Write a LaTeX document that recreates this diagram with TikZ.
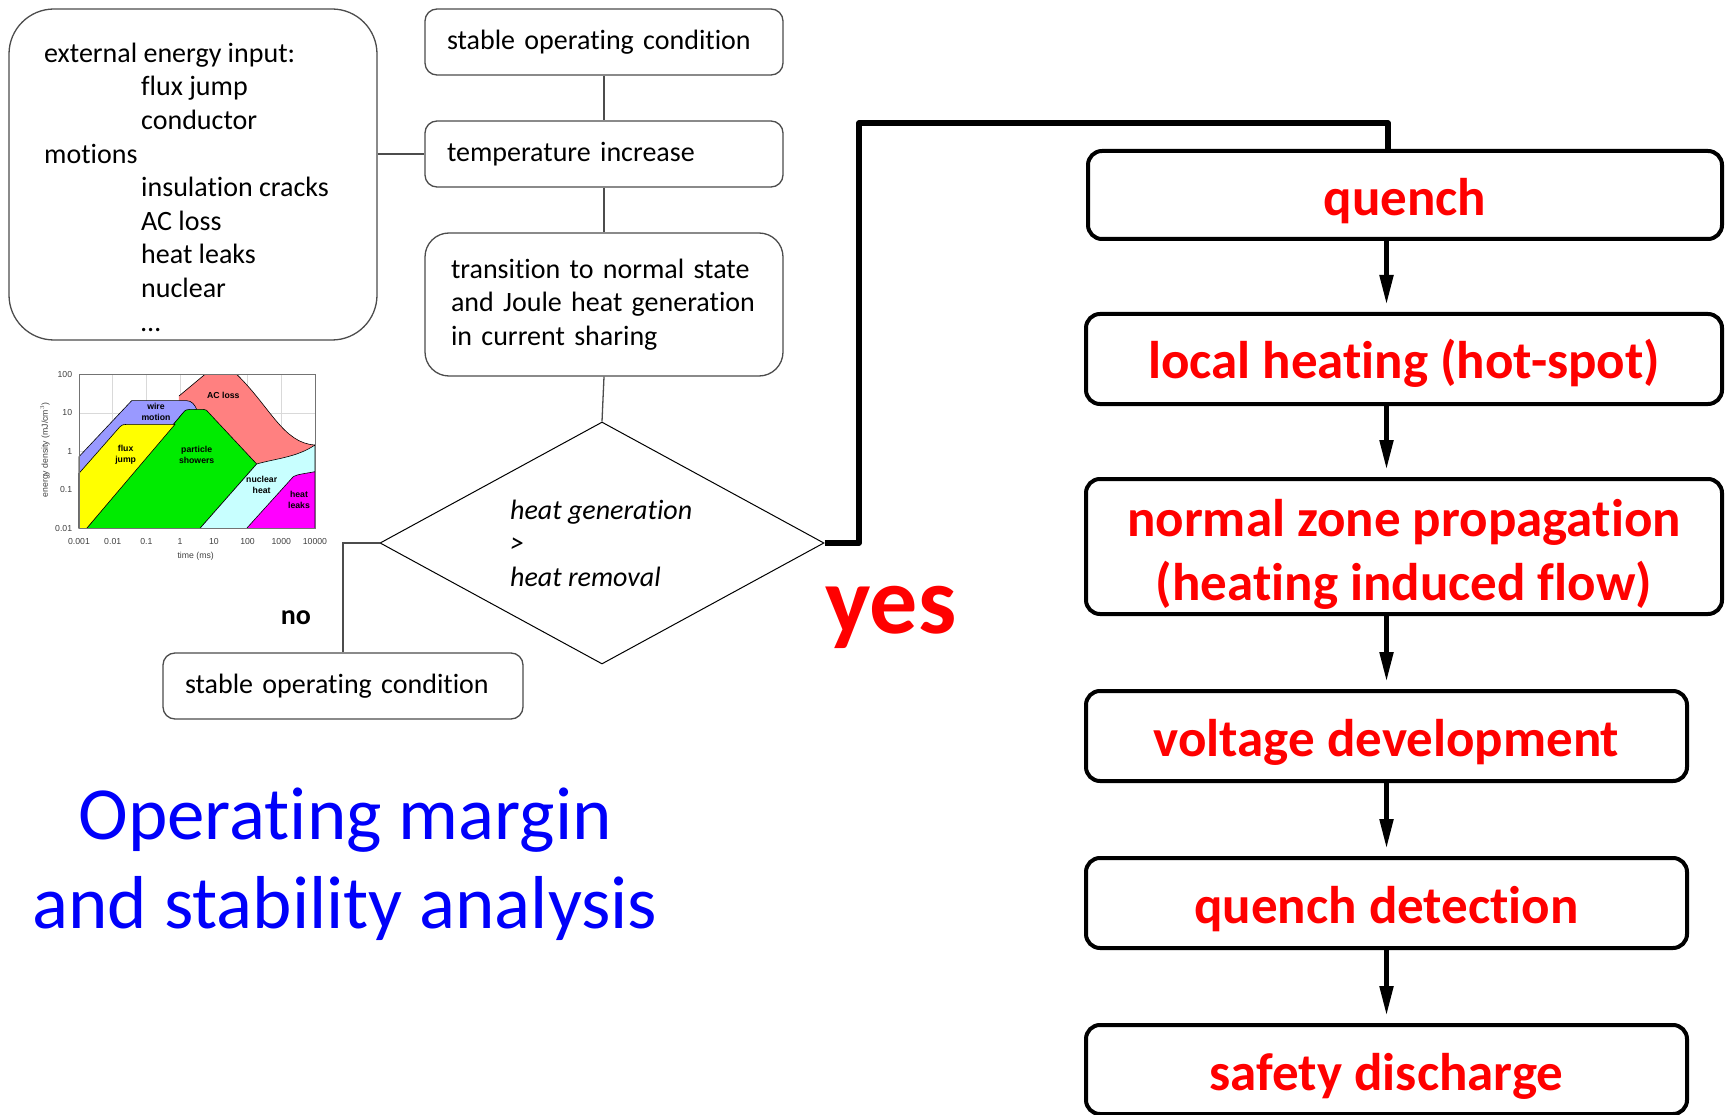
\documentclass[tikz,border=0pt]{standalone}
\usepackage{fontspec}
\setmainfont{Carlito}[Ligatures={NoCommon}]
\newfontfamily\chartfont{Liberation Sans}
\usetikzlibrary{shapes.geometric,arrows.meta,calc}
\definecolor{wirec}{RGB}{153,153,255}
\definecolor{acc}{RGB}{255,128,128}
\definecolor{partc}{RGB}{0,235,0}
\definecolor{fluxc}{RGB}{255,255,0}
\definecolor{nucc}{RGB}{200,255,255}
\definecolor{leakc}{RGB}{255,0,255}
\definecolor{titleblue}{RGB}{0,0,250}
\begin{document}
\begin{tikzpicture}[x=1pt,y=-1pt,
  gbox/.style={draw=black!70, line width=1.3pt, rounded corners=12pt, inner sep=0pt,
    font=\fontsize{28}{33.6}\selectfont, align=left},
  rbox/.style={draw=black, line width=4pt, rounded corners=14pt, inner sep=0pt},
  rtext/.style={text=red, font=\fontsize{53}{64}\selectfont\bfseries, align=center, inner sep=0pt},
  thinline/.style={draw=black!70, line width=1.3pt},
  heavyline/.style={line width=5.5pt, line join=round},
  arr/.style={line width=5pt, -{Triangle[length=30pt,width=13pt]}, shorten >=7pt},
  bodytext/.style={font=\fontsize{28}{33.6}\selectfont, inner sep=0pt, align=left},
  region/.style={draw=black, line width=0.6pt, line join=round},
  ticklab/.style={font=\chartfont\fontsize{8.7}{10}\selectfont, text=black!75, inner sep=0pt},
  reglab/.style={font=\chartfont\bfseries\fontsize{8.7}{10.7}\selectfont, align=center, inner sep=0pt}
]
\useasboundingbox (0,0) rectangle (1725,1115);

% ---------- left energy input box ----------
\node[draw=black!70, line width=1.3pt, rounded corners=45pt, minimum width=368pt, minimum height=331pt, inner sep=0pt] (energybox) at (193,174.5) {};
\node[bodytext, anchor=west] (energytext) at (44,187) {external energy input:\\
\hspace*{97pt}flux jump\\
\hspace*{97pt}conductor\\
motions\\
\hspace*{97pt}insulation cracks\\
\hspace*{97pt}AC loss\\
\hspace*{97pt}heat leaks\\
\hspace*{97pt}nuclear\\
\hspace*{97pt}\ldots};

% ---------- flow boxes ----------
\node[gbox, minimum width=358pt, minimum height=66pt, text width=314pt] (stable1) at (604,42) {stable operating condition};
\node[gbox, minimum width=358pt, minimum height=66pt, text width=314pt] (tempbox) at (604,154) {temperature increase};
\node[gbox, rounded corners=24pt, minimum width=358pt, minimum height=143pt, text width=306pt] (trans) at (604,304.5) {transition to normal state\\and Joule heat generation\\in current sharing};
\node[draw=black, line width=1pt, diamond, minimum width=444pt, minimum height=242pt, inner sep=0pt] (dia) at (602,543) {};
\node[bodytext, anchor=west, font=\fontsize{28}{33.5}\selectfont\itshape] (dtext) at (510,543) {heat generation\\>\\heat removal};
\node[font=\fontsize{28}{33}\selectfont\bfseries, inner sep=0pt] (nolabel) at (296,618) {no};
\node[gbox, minimum width=360pt, minimum height=66pt, text width=316pt] (stable2) at (343,686) {stable operating condition};

\draw[thinline] (energybox.east |- tempbox.west) -- (tempbox.west);
\draw[thinline] (stable1.south) -- (tempbox.north);
\draw[thinline] (tempbox.south) -- (trans.north);
\draw[thinline] (trans.south) -- (dia.north);
\draw[thinline] (dia.west) -| (stable2.north);

% ---------- yes ----------
\node[font=\fontsize{96}{100}\selectfont\bfseries, text=red, anchor=base, inner sep=0pt] (yes) at (891,633) {yes};

% ---------- right red column ----------
\node[rbox, minimum width=634pt, minimum height=88pt] (quench) at (1405,195) {};
\node[rbox, minimum width=636pt, minimum height=90pt] (local) at (1404,359) {};
\node[rbox, minimum width=636pt, minimum height=135pt] (normal) at (1404,546.5) {};
\node[rbox, minimum width=601pt, minimum height=90pt] (voltage) at (1386.5,736) {};
\node[rbox, minimum width=601pt, minimum height=90pt] (detect) at (1386.5,903) {};
\node[rbox, minimum width=601pt, minimum height=89pt] (safety) at (1386.5,1069.5) {};

\node[rtext] (quenchT) at ([yshift=-6pt]quench.center) {quench};
\node[rtext] (localT) at ([yshift=-4pt]local.center) {local heating (hot-spot)};
\node[rtext] (normalT) at ([yshift=-8pt]normal.center) {normal zone propagation\\(heating induced flow)};
\node[rtext] (voltageT) at ([yshift=-6pt]voltage.center) {voltage development};
\node[rtext] (detectT) at ([yshift=-6pt]detect.center) {quench detection};
\node[rtext] (safetyT) at ([yshift=-7pt]safety.center) {safety discharge};

\coordinate (yesturn) at (859,123);
\draw[heavyline] (dia.east) -| (yesturn) -| ([xshift=-17pt]quench.north);

\draw[arr] (quench.south -| voltage.north) -- (local.north -| voltage.north);
\draw[arr] (local.south -| voltage.north) -- (normal.north -| voltage.north);
\draw[arr] (normal.south -| voltage.north) -- (voltage.north);
\draw[arr] (voltage.south) -- (detect.north);
\draw[arr] (detect.south) -- (safety.north);

% ---------- title ----------
\node[font=\fontsize{75}{88}\selectfont, text=titleblue, anchor=base, inner sep=0pt] (title1) at (345,839) {Operating margin};
\node[font=\fontsize{75}{88}\selectfont, text=titleblue, anchor=base, inner sep=0pt] (title2) at (345,928) {and stability analysis};

% ---------- energy density chart ----------
\begin{scope}[shift={(30,360)}, x=0.33333pt, y=-0.33333pt]
  \foreach \i in {1,...,6} {
    \draw[black!15, line width=0.5pt] ({147+\i*101.14},43) -- ({147+\i*101.14},505);
  }
  \foreach \j in {1,2,3} {
    \draw[black!15, line width=0.5pt] (147,{43+\j*115.5}) -- (855,{43+\j*115.5});
  }
  % AC loss
  \fill[acc] (447,108) -- (525,43) -- (620,43) .. controls (720,140) and (760,250) .. (855,255) -- (855,400) -- (500,400) -- (447,200) -- cycle;
  \draw[region] (447,108) -- (525,43) -- (620,43) .. controls (720,140) and (760,250) .. (855,255);
  % wire motion
  \filldraw[region, fill=wirec] (147,290) -- (305,122) -- (470,122) .. controls (485,122) and (495,135) .. (500,148) -- (458,160) -- (170,505) -- (147,505) -- cycle;
  % particle showers
  \filldraw[region, fill=partc] (170,505) -- (458,160) .. controls (465,150) and (470,148) .. (480,148) -- (520,148) .. controls (528,148) and (532,152) .. (536,158) -- (680,312) -- (510,505) -- cycle;
  % flux jump
  \filldraw[region, fill=fluxc] (147,340) -- (270,200) .. controls (275,195) and (280,193) .. (290,193) -- (435,193) -- (170,505) -- (147,505) -- cycle;
  % nuclear heat
  \filldraw[region, fill=nucc] (510,505) -- (680,312) .. controls (740,295) and (800,292) .. (855,255) -- (855,505) -- cycle;
  % heat leaks
  \filldraw[region, fill=leakc] (650,505) -- (790,350) .. controls (800,343) and (830,340) .. (855,335) -- (855,505) -- cycle;
  % frame
  \draw[black!55, line width=0.8pt] (147,43) rectangle (855,505);
  % labels
  \node[reglab] (lwire) at (378,156) {wire\\motion};
  \node[reglab] (lac) at (580,107) {AC loss};
  \node[reglab] (lflux) at (287,284) {flux\\jump};
  \node[reglab] (lpart) at (500,284) {particle\\showers};
  \node[reglab] (lnuc) at (695,374) {nuclear\\heat};
  \node[reglab] (lleak) at (807,419) {heat\\leaks};
  % tick labels
  \node[ticklab, anchor=east] (yt0) at (127,43) {100};
  \node[ticklab, anchor=east] (yt1) at (127,158.5) {10};
  \node[ticklab, anchor=east] (yt2) at (127,274) {1};
  \node[ticklab, anchor=east] (yt3) at (127,389.5) {0.1};
  \node[ticklab, anchor=east] (yt4) at (127,505) {0.01};
  \foreach \lab [count=\k from 0] in {0.001,0.01,0.1,1,10,100,1000,10000} {
    \node[ticklab] (xt\k) at ({147+\k*101.14},545) {\lab};
  }
  \node[ticklab] (xlabel) at (497,590) {time (ms)};
  \node[ticklab, rotate=90] (ylabel) at (45,270) {energy density (mJ/cm$^{3}$)};
\end{scope}
\end{tikzpicture}
\end{document}
